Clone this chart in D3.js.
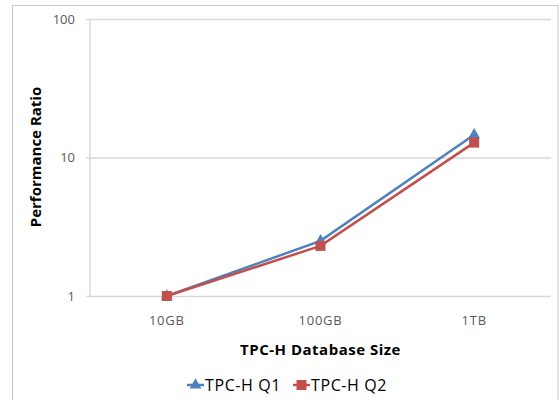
<!DOCTYPE html>
<html>
<head>
<meta charset="utf-8">
<script src="https://cdn.jsdelivr.net/npm/d3@7"></script>
<style>
  body { margin: 0; background: #fff; }
  text { font-family: "Open Sans", "Noto Sans", sans-serif; }
</style>
</head>
<body>
<div id="chart"></div>
<script>
// data
var sizes = ["10GB", "100GB", "1TB"];
var q1 = [1, 2.5, 14.6];
var q2 = [1, 2.3, 12.8];
var yTicks = [1, 10, 100];
var seriesNames = ["TPC-H Q1", "TPC-H Q2"];
var seriesColors = ["#4F81BD", "#C0504D"];

var W = 559, H = 400;
var margin = {top: 19, right: 8, bottom: 104, left: 90},
    width = W - margin.left - margin.right,
    height = H - margin.top - margin.bottom;

var root = d3.select("#chart").append("svg")
    .attr("width", W).attr("height", H);

// outer chart border
root.append("rect")
    .attr("x", 12.5).attr("y", 5.5)
    .attr("width", W - 13.5).attr("height", H)
    .attr("fill", "none").attr("stroke", "#c8c8c8");

var svg = root.append("g")
    .attr("transform", "translate(" + margin.left + "," + margin.top + ")");

var x = d3.scaleBand().domain(sizes).range([0, width]);
var y = d3.scaleLog().domain([1, 100]).range([height, 0]);

// gridlines + y ticks
svg.append("g")
    .call(d3.axisLeft(y).tickValues(yTicks).tickFormat(d3.format("d"))
        .tickSize(-width - 4).tickPadding(11))
    .attr("transform", "translate(-4,0)")
    .call(g => g.select(".domain").remove())
    .call(g => g.selectAll(".tick line").attr("stroke", "#d9d9d9").attr("stroke-width", 1.5))
    .call(g => g.selectAll(".tick text").attr("fill", "#595959").style("font-size", "13px"));

// left axis line
svg.append("line")
    .attr("x1", 0).attr("x2", 0).attr("y1", 0).attr("y2", height)
    .attr("stroke", "#d9d9d9").attr("stroke-width", 1.5);

// x labels
svg.append("g")
    .attr("transform", "translate(0," + height + ")")
    .call(d3.axisBottom(x).tickSize(0).tickPadding(20))
    .call(g => g.select(".domain").remove())
    .call(g => g.selectAll(".tick text").attr("fill", "#595959")
        .style("font-size", "13px").style("letter-spacing", "0.8px"));

// axis titles
root.append("text")
    .attr("x", margin.left + width / 2).attr("y", 355)
    .attr("text-anchor", "middle")
    .style("font-size", "15px").style("font-weight", "bold")
    .style("letter-spacing", "0.5px").attr("fill", "#000")
    .text("TPC-H Database Size");

root.append("text")
    .attr("transform", "translate(41,157) rotate(-90)")
    .attr("text-anchor", "middle")
    .style("font-size", "15px").style("font-weight", "bold").attr("fill", "#000")
    .text("Performance Ratio");

var series = [q1, q2];
var line = d3.line()
    .x(function(d, i) { return x(sizes[i]) + x.bandwidth() / 2; })
    .y(function(d) { return y(d); });

series.forEach(function(vals, s) {
  svg.append("path")
      .datum(vals)
      .attr("d", line)
      .attr("fill", "none")
      .attr("stroke", seriesColors[s])
      .attr("stroke-width", 2.5);
});

var symTypes = [d3.symbolTriangle, d3.symbolSquare];
var symSizes = [60, 100];
series.forEach(function(vals, s) {
  svg.selectAll(".m" + s)
      .data(vals)
      .enter().append("path")
      .attr("transform", function(d, i) {
        return "translate(" + (x(sizes[i]) + x.bandwidth() / 2) + "," + y(d) + ")";
      })
      .attr("d", d3.symbol().type(symTypes[s]).size(symSizes[s]))
      .attr("fill", seriesColors[s]);
});

// legend
var legX = [187, 293];
seriesNames.forEach(function(name, s) {
  var g = root.append("g").attr("transform", "translate(" + legX[s] + ",385)");
  g.append("line").attr("x1", 0).attr("x2", 17).attr("y1", 0).attr("y2", 0)
      .attr("stroke", seriesColors[s]).attr("stroke-width", 2.5);
  g.append("path").attr("transform", "translate(8.5,0)")
      .attr("d", d3.symbol().type(symTypes[s]).size(symSizes[s]))
      .attr("fill", seriesColors[s]);
  g.append("text").attr("x", 18).attr("y", 6)
      .style("font-size", "16px").style("letter-spacing", "0.6px").attr("fill", "#000")
      .text(name);
});
</script>
</body>
</html>
